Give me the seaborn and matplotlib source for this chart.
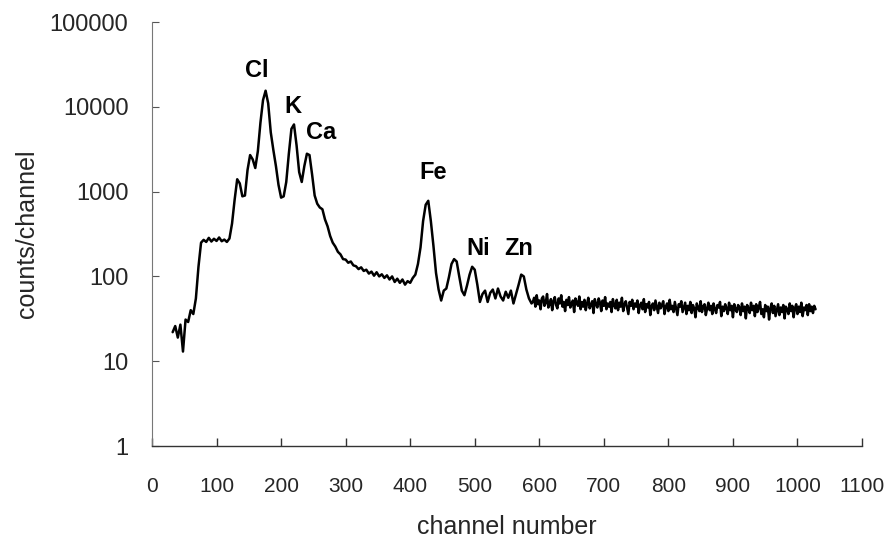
import numpy as np
import pandas as pd
import matplotlib
matplotlib.use("Agg")
import matplotlib.pyplot as plt
import seaborn as sns

# Peak region: channels 32-588, every 4 channels, counts
channels_peaks = list(range(32, 589, 4))
counts_peaks = [
    22, 26, 19, 27, 13, 31, 29, 40, 36, 55,            # 32-68
    130, 250, 270, 255, 285, 258, 278, 262, 288, 260,  # 72-108
    272, 255, 280, 420, 800, 1400, 1250, 880, 900, 1800,  # 112-148
    2700, 2400, 1900, 3000, 6500, 12000, 15500, 11000, 5000, 3100,  # 152-188
    2000, 1200, 850, 880, 1300, 2800, 5500, 6200, 3500, 1700,  # 192-228
    1300, 2000, 2800, 2700, 1600, 900, 720, 650, 620, 470,  # 232-268
    390, 300, 250, 225, 195, 182, 160, 158, 145, 150,  # 272-308
    135, 132, 122, 128, 116, 120, 108, 114, 102, 112,  # 312-348
    100, 106, 96, 103, 92, 100, 86, 94, 84, 92,        # 352-388
    80, 88, 84, 96, 105, 140, 220, 450, 700, 780,      # 392-428
    450, 230, 110, 70, 52, 68, 72, 98, 140, 160,       # 432-468
    150, 100, 68, 60, 78, 105, 130, 120, 80, 50,       # 472-508
    62, 68, 50, 64, 70, 55, 72, 58, 52, 66,            # 512-548
    56, 68, 48, 62, 80, 105, 100, 70, 55, 48,          # 552-588
]

# Background tail: channels 590-1028, every 2 channels
channels_tail = list(range(590, 1029, 2))
counts_tail = [
    50, 56, 44, 60, 47, 52, 41, 55, 58, 45,
    49, 62, 43, 47, 54, 40, 51, 57, 46, 42,
    55, 48, 60, 44, 50, 39, 53, 46, 57, 43,
    47, 52, 38, 55, 49, 45, 58, 41, 50, 44,
    53, 40, 48, 56, 42, 46, 51, 37, 54, 47,
    43, 55, 49, 39, 52, 45, 57, 41, 48, 44,
    50, 38, 54, 46, 42, 53, 40, 49, 44, 56,
    39, 47, 51, 43, 36, 50, 45, 53, 41, 48,
    44, 52, 37, 46, 49, 41, 54, 38, 47, 43,
    50, 35, 45, 48, 40, 52, 44, 37, 49, 42,
    46, 51, 36, 44, 48, 39, 53, 41, 45, 38,
    50, 42, 35, 47, 44, 51, 38, 43, 49, 36,
    45, 40, 50, 37, 46, 42, 33, 48, 43, 39,
    51, 38, 44, 47, 35, 42, 49, 40, 45, 36,
    48, 41, 37, 46, 43, 50, 34, 44, 39, 47,
    42, 36, 49, 40, 45, 33, 47, 41, 38, 46,
    43, 35, 48, 39, 44, 32, 46, 42, 37, 49,
    40, 45, 34, 47, 38, 43, 50, 36, 41, 33,
    46, 39, 44, 31, 42, 48, 37, 45, 34, 40,
    47, 35, 43, 38, 46, 32, 44, 41, 36, 48,
    39, 45, 33, 42, 47, 36, 44, 38, 49, 34,
    43, 40, 46, 35, 47, 39, 44, 37, 45, 41,
]

df = pd.concat([
    pd.DataFrame({"channel": channels_peaks[:len(counts_peaks)],
                  "counts": counts_peaks[:len(channels_peaks)]}),
    pd.DataFrame({"channel": channels_tail[:len(counts_tail)],
                  "counts": counts_tail[:len(channels_tail)]}),
], ignore_index=True)

elements = ["Cl", "K", "Ca", "Fe", "Ni", "Zn"]
x_ticks = [0, 100, 200, 300, 400, 500, 600, 700, 800, 900, 1000, 1100]
y_ticks = [1, 10, 100, 1000, 10000, 100000]

sns.set_theme(style="white")
plt.rcParams["font.family"] = ["Liberation Sans", "DejaVu Sans"]

fig = plt.figure(figsize=(8.92, 5.38), dpi=100)
ax = fig.add_axes([0.1704, 0.171, 0.796, 0.788])

sns.lineplot(data=df, x="channel", y="counts", ax=ax, color="black",
             linewidth=1.8, estimator=None)

ax.set_yscale("log")
ax.set_xlim(0, 1100)
ax.set_ylim(1, 100000)
ax.set_xticks(x_ticks)
ax.set_xticklabels([str(t) for t in x_ticks])
ax.set_yticks(y_ticks)
ax.set_yticklabels([str(t) for t in y_ticks])
ax.minorticks_off()

ax.tick_params(axis="x", direction="in", length=6, width=1, color="#333333",
               labelsize=15, pad=22, bottom=True)
ax.tick_params(axis="y", direction="in", length=5, width=0.8, color="#555555",
               labelsize=17, pad=17, left=True)

for side in ["top", "right"]:
    ax.spines[side].set_visible(False)
ax.spines["bottom"].set_color("#333333")
ax.spines["bottom"].set_linewidth(1.0)
ax.spines["left"].set_color("#777777")
ax.spines["left"].set_linewidth(0.8)

ax.set_xlabel("channel number", fontsize=18, labelpad=14)
ax.set_ylabel("counts/channel", fontsize=18, labelpad=8)

label_pos = [(163, 26500), (218, 10000), (262, 5000), (435, 1700), (506, 216), (568, 216)]
for name, (lx, ly) in zip(elements, label_pos):
    ax.text(lx, ly, name, ha="center", va="center", fontsize=17,
            fontweight="bold", color="black")

fig.savefig("out.png", dpi=100)
